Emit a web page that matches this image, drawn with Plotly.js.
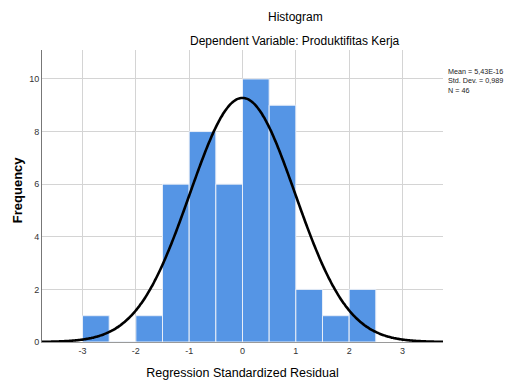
<!DOCTYPE html>
<html>
<head>
<meta charset="utf-8">
<script src="https://cdn.plot.ly/plotly-3.0.1.min.js"></script>
<style>html,body{margin:0;padding:0;background:#fff;}#chart{width:507px;height:381px;}</style>
</head>
<body>
<div id="chart"></div>
<script>
// Histogram bins (left edge) and counts
const binStarts = [-3.0, -2.5, -2.0, -1.5, -1.0, -0.5, 0.0, 0.5, 1.0, 1.5, 2.0];
const counts    = [1, 0, 1, 6, 8, 6, 10, 9, 2, 1, 2];
const binWidth = 0.5;
// Reported statistics
const meanVal = 5.43e-16;
const sdVal = 0.989;
const nVal = 46;
const xTicks = [-3, -2, -1, 0, 1, 2, 3];
const yTicks = [0, 2, 4, 6, 8, 10];

const centers = binStarts.map(b => b + binWidth / 2);

// Fitted normal curve defined by the reported mean, std. dev. and N
const curveX = [];
const curveY = [];
for (let i = 0; i <= 300; i++) {
  const x = -3.76 + i * (7.52 / 300);
  const z = (x - meanVal) / sdVal;
  curveX.push(x);
  curveY.push(nVal * binWidth * Math.exp(-0.5 * z * z) / (sdVal * Math.sqrt(2 * Math.PI)));
}

const font = "Liberation Sans, Arial, sans-serif";

const data = [
  {
    type: 'bar', x: centers, y: counts, width: binWidth,
    marker: {color: '#5595e5', line: {color: '#e8eef8', width: 1}},
    hoverinfo: 'none'
  },
  {
    type: 'scatter', mode: 'lines', x: curveX, y: curveY,
    line: {color: '#000', width: 2.6, shape: 'spline'},
    hoverinfo: 'none'
  }
];

const layout = {
  width: 507, height: 381,
  margin: {l: 42, r: 64, t: 50, b: 39},
  paper_bgcolor: '#fff', plot_bgcolor: '#fff',
  showlegend: false,
  bargap: 0,
  font: {family: font, color: '#222'},
  xaxis: {
    range: [-3.76, 3.76], tickvals: xTicks, ticktext: xTicks.map(String),
    showgrid: true, gridcolor: '#d4d4d4', gridwidth: 1,
    zeroline: false, showline: true, linecolor: '#9a9a9a', linewidth: 1,
    ticks: '', tickfont: {size: 9, color: '#333', family: font},
    title: {text: 'Regression Standardized Residual', font: {size: 12.5, color: '#000', family: font}, standoff: 13}
  },
  yaxis: {
    range: [0, 11.1], tickvals: yTicks, ticktext: yTicks.map(String),
    showgrid: true, gridcolor: '#d4d4d4', gridwidth: 1,
    zeroline: false, showline: true, linecolor: '#777', linewidth: 1,
    ticks: '', tickfont: {size: 9, color: '#333', family: font}
  },
  annotations: [
    {xref: 'paper', yref: 'paper', x: -0.0623, y: 0.52, text: '<b>Frequency</b>', showarrow: false, textangle: -90,
     xanchor: 'center', yanchor: 'middle', font: {size: 13, color: '#000', family: font}},
    {xref: 'paper', yref: 'paper', x: 0.631, y: 1.113, text: 'Histogram', showarrow: false,
     xanchor: 'center', yanchor: 'middle', font: {size: 12, color: '#000', family: font}},
    {xref: 'paper', yref: 'paper', x: 0.631, y: 1.031, text: 'Dependent Variable: Produktifitas Kerja', showarrow: false,
     xanchor: 'center', yanchor: 'middle', font: {size: 12, color: '#000', family: font}},
    {xref: 'paper', yref: 'paper', x: 1.0075, y: 0.948, align: 'left',
     text: 'Mean = 5,43E-16<br>Std. Dev. = 0,989<br>N = 46', showarrow: false,
     xanchor: 'left', yanchor: 'top', font: {size: 7.2, color: '#222', family: font}}
  ]
};

Plotly.newPlot('chart', data, layout, {displayModeBar: false, staticPlot: true});
</script>
</body>
</html>
